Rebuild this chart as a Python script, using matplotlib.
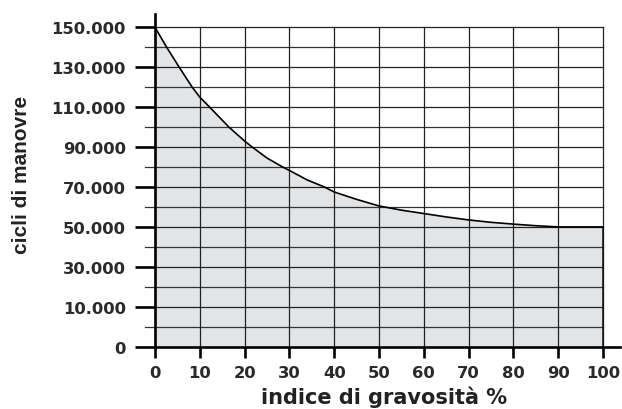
import matplotlib
matplotlib.use("Agg")
import matplotlib.pyplot as plt

# data
x_vals = [0, 2.6, 5.4, 8.3, 10, 12.2, 16.5, 20, 21.7, 25, 28.5, 30, 34, 37.8, 40, 45,
          50, 55, 60, 65, 70, 75, 80, 85, 90, 100]
cycles = [150000, 140000, 130000, 120000, 115000, 110000, 100000, 93000, 90000, 84500,
          80000, 78300, 73500, 70000, 67500, 63800, 60500, 58400, 56700, 55000, 53500,
          52300, 51400, 50600, 50000, 50000]
x_ticks = [0, 10, 20, 30, 40, 50, 60, 70, 80, 90, 100]
y_major = [-10000, 10000, 30000, 50000, 70000, 90000, 110000, 130000, 150000]
y_major_labels = ["0", "10.000", "30.000", "50.000", "70.000", "90.000", "110.000", "130.000", "150.000"]
y_minor = [0, 20000, 40000, 60000, 80000, 100000, 120000, 140000]

W, H = 622, 410
fig = plt.figure(figsize=(W / 100, H / 100), dpi=100)
ax = fig.add_axes([155 / W, (H - 347.7) / H, (620 - 155) / W, (347.7 - 15) / H])
ybot, ytop = -10000, 156650
ax.set_xlim(0, 103.8)
ax.set_ylim(ybot, ytop)

fill_col = "#e3e4e6"
ax.fill_between(x_vals, ybot, cycles, color=fill_col, lw=0, zorder=1)

# grid
for yv in y_major:
    if yv > ybot:
        ax.plot([0, 100], [yv, yv], color="#222222", lw=0.9, zorder=2)
for yv in y_minor:
    ax.plot([-2.25, 100], [yv, yv], color="#333333", lw=0.9, zorder=2, clip_on=False)
for xv in x_ticks[1:]:
    ax.plot([xv, xv], [ybot, 150000], color="#222222", lw=0.9, zorder=2)
ax.plot([100, 100], [ybot, cycles[-1]], color="#111111", lw=1.1, zorder=2)

ax.plot(x_vals, cycles, color="black", lw=1.2, zorder=3)

for s in ["top", "right"]:
    ax.spines[s].set_visible(False)
for s in ["left", "bottom"]:
    ax.spines[s].set_linewidth(1.9)
    ax.spines[s].set_zorder(4)

ax.set_xticks(x_ticks)
ax.set_xticklabels([str(v) for v in x_ticks])
ax.set_yticks(y_major)
ax.set_yticklabels(y_major_labels)
ax.tick_params(axis="y", length=14.5, width=1.9, pad=6.5)
ax.tick_params(axis="x", length=8, width=1.9, pad=5)
for lab in ax.get_xticklabels() + ax.get_yticklabels():
    lab.set_fontfamily("DejaVu Sans")
    lab.set_fontweight("bold")
    lab.set_fontsize(11.8)
    lab.set_color("#2a2a2a")

fig.text(384 / W, 1 - 397 / H, "indice di gravosità %", ha="center", va="center",
         fontsize=15, fontweight="bold", family="DejaVu Sans", color="#222222")
fig.text(22 / W, 1 - 175 / H, "cicli di manovre", ha="center", va="center", rotation=90,
         fontsize=15, fontweight="bold", family="Liberation Sans", color="#222222")

fig.savefig("out.png", dpi=100)
